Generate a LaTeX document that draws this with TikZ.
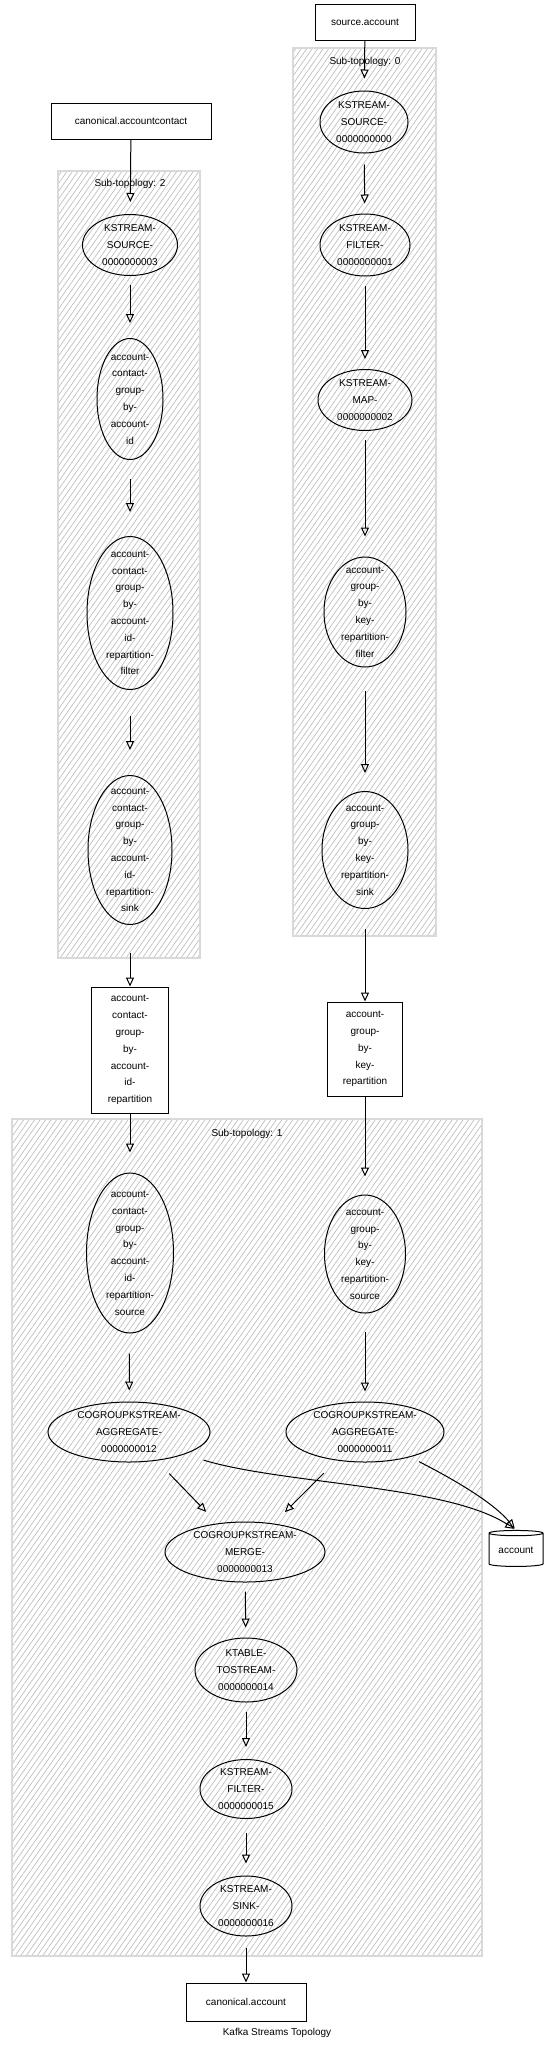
\documentclass[tikz,border=0pt]{standalone}
\usepackage{fontspec}
\setmainfont{Liberation Sans}
\usetikzlibrary{shapes.geometric, arrows.meta, patterns.meta}

\begin{document}
\begin{tikzpicture}[x=1pt, y=-1pt,
    font=\fontsize{10}{16.8}\selectfont,
    topic/.style={draw, rectangle, line width=1pt, align=center, inner sep=0pt},
    proc/.style={draw, ellipse, line width=1pt, align=center, inner sep=-20pt},
    store/.style={draw, cylinder, shape border rotate=90, aspect=0.15, line width=1pt, inner sep=0pt},
    subtopo/.style={draw=black!15, line width=1.2pt, pattern={Lines[angle=55, distance=4.5pt, line width=0.7pt]}, pattern color=black!25},
    flow/.style={-{Triangle[open, length=9pt, width=8pt]}, line width=1pt}]
    \useasboundingbox (0,0) rectangle (553,2048);

    % Sub-topology frames
    \draw[subtopo] (293,48) rectangle (436,936);
    \node (lbl0) at (365,62) {Sub-topology: 0};
    \draw[subtopo] (58,171) rectangle (200,958);
    \node (lbl2) at (130,184) {Sub-topology: 2};
    \draw[subtopo] (12,1119) rectangle (482,1956);
    \node (lbl1) at (247,1134) {Sub-topology: 1};

    % Sub-topology 0
    \node[topic, minimum width=100pt, minimum height=36pt] (src_acct) at (365,22) {source.account};
    \node[proc, minimum width=88pt, minimum height=62pt] (ks_src0) at (364,122) {KSTREAM-\\SOURCE-\\0000000000};
    \node[proc, minimum width=90pt, minimum height=62pt] (ks_filter1) at (365,245) {KSTREAM-\\FILTER-\\0000000001};
    \node[proc, minimum width=94pt, minimum height=61pt] (ks_map2) at (365,400) {KSTREAM-\\MAP-\\0000000002};
    \node[proc, minimum width=82pt, minimum height=110pt] (key_filter) at (365,612) {account-\\group-\\by-\\key-\\repartition-\\filter};
    \node[proc, minimum width=86pt, minimum height=117pt] (key_sink) at (365,850) {account-\\group-\\by-\\key-\\repartition-\\sink};
    \node[topic, minimum width=75pt, minimum height=94pt] (key_topic) at (365,1049) {account-\\group-\\by-\\key-\\repartition};

    % Sub-topology 2
    \node[topic, minimum width=160pt, minimum height=36pt] (ac_topic) at (131,121) {canonical.accountcontact};
    \node[proc, minimum width=95pt, minimum height=61pt] (ks_src3) at (130,245) {KSTREAM-\\SOURCE-\\0000000003};
    \node[proc, minimum width=66pt, minimum height=121pt] (ac_group) at (130,399) {account-\\contact-\\group-\\by-\\account-\\id};
    \node[proc, minimum width=86pt, minimum height=153pt] (ac_filter) at (130,613) {account-\\contact-\\group-\\by-\\account-\\id-\\repartition-\\filter};
    \node[proc, minimum width=84pt, minimum height=149pt] (ac_sink) at (130,850) {account-\\contact-\\group-\\by-\\account-\\id-\\repartition-\\sink};
    \node[topic, minimum width=77pt, minimum height=126pt] (ac_rep) at (130,1050) {account-\\contact-\\group-\\by-\\account-\\id-\\repartition};

    % Sub-topology 1
    \node[proc, minimum width=87pt, minimum height=160pt] (ac_source) at (130,1253) {account-\\contact-\\group-\\by-\\account-\\id-\\repartition-\\source};
    \node[proc, minimum width=81pt, minimum height=118pt] (key_source) at (365,1254) {account-\\group-\\by-\\key-\\repartition-\\source};
    \node[proc, minimum width=162pt, minimum height=60pt] (agg12) at (129,1432) {COGROUPKSTREAM-\\AGGREGATE-\\0000000012};
    \node[proc, minimum width=158pt, minimum height=60pt] (agg11) at (365,1432) {COGROUPKSTREAM-\\AGGREGATE-\\0000000011};
    \node[proc, minimum width=160pt, minimum height=60pt] (merge) at (245,1552) {COGROUPKSTREAM-\\MERGE-\\0000000013};
    \node[proc, minimum width=102pt, minimum height=64pt] (ktable) at (246,1670) {KTABLE-\\TOSTREAM-\\0000000014};
    \node[proc, minimum width=92pt, minimum height=59pt] (filter15) at (246,1789) {KSTREAM-\\FILTER-\\0000000015};
    \node[proc, minimum width=92pt, minimum height=60pt] (sink16) at (246,1906) {KSTREAM-\\SINK-\\0000000016};
    \node[store, minimum width=54pt, minimum height=36pt] (account) at (516,1550) {account};
    \node[topic, minimum width=120pt, minimum height=38pt] (can_acct) at (246,2002) {canonical.account};

    \node (title) at (277,2033) {Kafka Streams Topology};

    % Connectors
    \draw[flow, shorten >=12pt] (src_acct) -- (ks_src0);
    \draw[flow, shorten <=11pt, shorten >=10pt] (ks_src0) -- (ks_filter1);
    \draw[flow, shorten <=9pt, shorten >=10pt] (ks_filter1) -- (ks_map2);
    \draw[flow, shorten <=9pt, shorten >=20pt] (ks_map2) -- (key_filter);
    \draw[flow, shorten <=23pt, shorten >=18pt] (key_filter) -- (key_sink);
    \draw[flow, shorten <=20pt] (key_sink) -- (key_topic);
    \draw[flow, shorten >=18pt] (key_topic) -- (key_source);
    \draw[flow, shorten <=18pt, shorten >=10pt] (key_source) -- (agg11);

    \draw[flow, shorten >=12pt] (ac_topic) -- (ks_src3);
    \draw[flow, shorten <=9pt, shorten >=15pt] (ks_src3) -- (ac_group);
    \draw[flow, shorten <=19pt, shorten >=24pt] (ac_group) -- (ac_filter);
    \draw[flow, shorten <=26pt, shorten >=25pt] (ac_filter) -- (ac_sink);
    \draw[flow, shorten <=28pt] (ac_sink) -- (ac_rep);
    \draw[flow, shorten >=20pt] (ac_rep) -- (ac_source);
    \draw[flow, shorten <=20pt, shorten >=11pt] (ac_source) -- (agg12);

    \draw[flow, shorten <=18pt, shorten >=16pt] (agg12) -- (merge);
    \draw[flow, shorten <=18pt, shorten >=16pt] (agg11) -- (merge);
    \draw[flow, shorten <=20pt, shorten >=2pt] (agg12.-22) .. controls +(100,30) and +(-70,-45) .. (account.north);
    \draw[flow, shorten <=10pt, shorten >=2pt] (agg11.-29) .. controls +(35,18) and +(-25,-30) .. (account.north);
    \draw[flow, shorten <=9pt, shorten >=10pt] (merge) -- (ktable);
    \draw[flow, shorten <=9pt, shorten >=12pt] (ktable) -- (filter15);
    \draw[flow, shorten <=14pt, shorten >=12pt] (filter15) -- (sink16);
    \draw[flow, shorten <=11pt] (sink16) -- (can_acct);
\end{tikzpicture}
\end{document}
